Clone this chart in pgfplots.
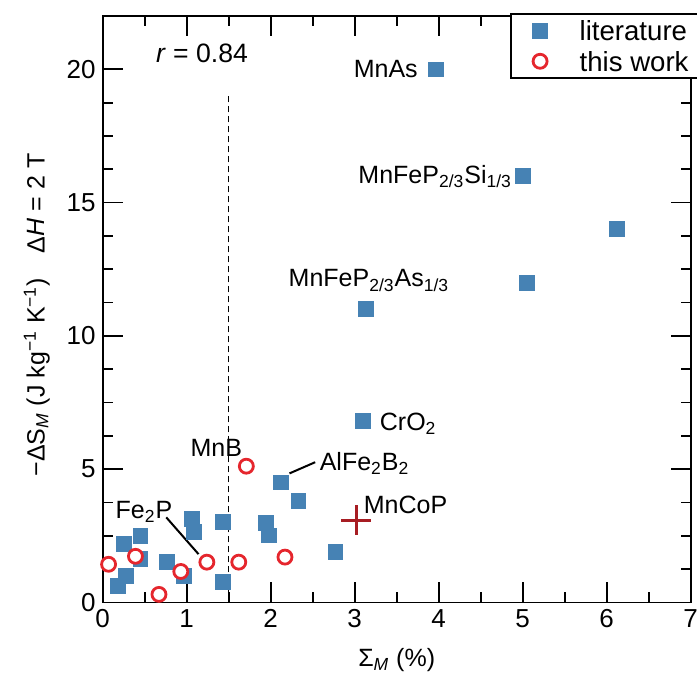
\documentclass[border=0pt]{standalone}
\usepackage{fontspec}
\setmainfont{Liberation Sans}
\usepackage{pgfplots}
\pgfplotsset{compat=1.18}
\definecolor{litblue}{HTML}{4682B4}
\definecolor{workred}{HTML}{E5262D}
\definecolor{crossred}{HTML}{A71D23}
\newcommand{\lbl}{\fontsize{12.5}{15}\selectfont}
\newcommand{\tck}{\fontsize{13}{15}\selectfont}
\newcommand{\leg}{\fontsize{13.8}{15}\selectfont}

\begin{document}
\begin{tikzpicture}[font=\lbl]
\useasboundingbox (-51.35pt,-36.35pt) rectangle (297.15pt,301.2pt);
\begin{axis}[
  scale only axis, width=294pt, height=293.2pt,
  xmin=0, xmax=7, ymin=0, ymax=22,
  xtick={0,1,...,7}, ytick={0,5,10,15,20},
  minor x tick num=1, minor y tick num=3,
  tick align=inside,
  major tick length=10pt, minor tick length=5pt,
  axis line style={line width=0.9pt},
  every tick/.append style={line width=0.9pt, black},
  tick label style={font=\tck},
  /pgf/number format/assume math mode=true,
  xlabel={Σ\textsubscript{\textit{M}} (\%)},
  xlabel style={at={(axis description cs:0.5,0)}, anchor=base, yshift=-32pt, font=\lbl},
  ylabel={−ΔS\textsubscript{\textit{M}} (J kg\textsuperscript{−1} K\textsuperscript{−1})\quad Δ\textit{H} = 2 T},
  ylabel style={at={(axis description cs:-0.112,0.49)}, anchor=center, font=\lbl},
  legend style={at={(rel axis cs:0.693,1.005)}, anchor=north west, draw=black,
    line width=0.9pt, font=\leg, inner xsep=4pt, inner ysep=1pt, row sep=0pt,
    nodes={text height=9.9pt, text depth=0pt, inner ysep=2.6pt}},
  legend cell align=left,
  legend image code/.code={
    \path[draw=none, fill=none] (0pt,0pt) -- (28.3pt,0pt);
    \draw[#1] plot coordinates {(10.5pt,0pt)};
  },
]
\addplot[only marks, mark=square*, mark size=3.7pt, color=litblue] coordinates {
  (0.25,2.2)(0.45,2.5)(0.45,1.64)(0.28,0.99)(0.18,0.61)(0.76,1.51)(0.97,0.99)
  (1.06,3.14)(1.09,2.64)(1.43,3.01)(1.43,0.76)(1.94,2.98)(1.98,2.51)(2.12,4.5)
  (2.33,3.8)(2.77,1.89)(3.1,6.8)(3.13,11)(3.97,20)(5.0,16)(5.05,12)(6.12,14)
};
\addlegendentry{literature}
\addplot[only marks, mark=*, mark size=3.5pt, draw=workred, fill=white,
  mark options={line width=1.4pt}] coordinates {
  (0.07,1.43)(0.39,1.73)(0.67,0.3)(0.93,1.16)(1.24,1.51)(1.62,1.51)(1.71,5.11)(2.17,1.7)
};
\addlegendentry{this work}
\addplot[forget plot, only marks, mark=+, mark size=7.5pt, color=crossred, mark options={line width=1.7pt}] coordinates {(3.02,3.08)};
\addplot[forget plot, black, line width=0.75pt, dash pattern=on 3pt off 2pt] coordinates {(1.5,0)(1.5,19.1)};

\draw[line width=1pt] (axis cs:2.224,4.84) -- (axis cs:2.53,5.26);
\draw[line width=1pt] (axis cs:0.757,3.19) -- (axis cs:1.141,1.81);

\node[anchor=base east, inner sep=0pt] at (axis cs:3.755,19.68) {MnAs};
\node[anchor=base west, inner sep=0pt] at (axis cs:3.04,15.72) {MnFeP\textsubscript{2/3}Si\textsubscript{1/3}};
\node[anchor=base west, inner sep=0pt] at (axis cs:2.21,11.84) {MnFeP\textsubscript{2/3}As\textsubscript{1/3}};
\node[anchor=base west, inner sep=0pt] at (axis cs:3.295,6.44) {CrO\textsubscript{2}};
\node[anchor=base west, inner sep=0pt] at (axis cs:2.58,4.96) {AlFe\textsubscript{2}B\textsubscript{2}};
\node[anchor=base west, inner sep=0pt] at (axis cs:3.105,3.34) {MnCoP};
\node[anchor=base west, inner sep=0pt] at (axis cs:1.042,5.46) {MnB};
\node[anchor=base west, inner sep=0pt] at (axis cs:0.15,3.15) {Fe\textsubscript{2}P};
\node[anchor=base west, inner sep=0pt, font=\fontsize{13.3}{15}\selectfont] at (axis cs:0.63,20.25) {\textit{r} = 0.84};
\end{axis}
\end{tikzpicture}
\end{document}
